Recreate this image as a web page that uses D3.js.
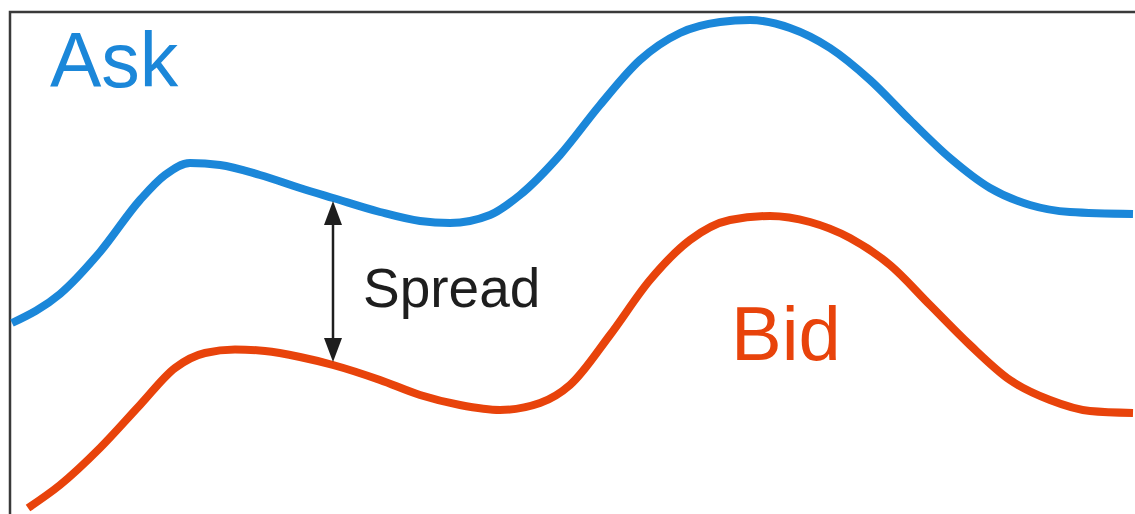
<!DOCTYPE html>
<html>
<head>
<meta charset="utf-8">
<script src="https://cdn.jsdelivr.net/npm/d3@7"></script>
<style>
html,body{margin:0;padding:0;background:#fff;}
svg{display:block;}
</style>
</head>
<body>
<svg id="chart" width="1135" height="514"></svg>
<script>
// time points (arbitrary units) and prices
const askTime  = [2, 50, 90, 130, 155, 180, 210, 250, 290, 323, 370, 410, 440, 480, 510, 550, 590, 630, 670, 710, 740, 780, 820, 860, 900, 940, 980, 1020, 1060, 1123];
const askPrice = [197, 226, 268, 320, 345, 357, 355, 345, 332, 322, 308, 299, 297, 305, 325, 365, 415, 460, 487, 498, 500, 492, 472, 440, 400, 362, 332, 315, 308, 306];
const bidTime  = [18, 50, 90, 130, 165, 195, 225, 255, 290, 323, 370, 410, 450, 490, 530, 560, 600, 640, 680, 720, 760, 800, 840, 880, 920, 960, 1000, 1040, 1080, 1123];
const bidPrice = [12, 35, 72, 115, 152, 167, 170.5, 169, 163, 155, 140, 125, 115, 110, 117, 135, 185, 240, 280, 300, 304, 298, 282, 255, 215, 175, 140, 120, 109, 107];
const labels = {ask: "Ask", bid: "Bid", spread: "Spread"};
const spreadTime = 323;

const svg = d3.select("#chart");
const x = d3.scaleLinear().domain([0, 1125]).range([10, 1135]);
const y = d3.scaleLinear().domain([0, 520]).range([520, 0]);

// frame
svg.append("path")
  .attr("d", `M${x(0)},514 L${x(0)},${y(508)} L1135,${y(508)}`)
  .attr("fill", "none").attr("stroke", "#3a3a3a").attr("stroke-width", 2.5);

const line = d3.line().x(d => x(d[0])).y(d => y(d[1])).curve(d3.curveMonotoneX);

svg.append("path")
  .attr("d", line(askTime.map((t, i) => [t, askPrice[i]])))
  .attr("fill", "none").attr("stroke", "#1b87d9").attr("stroke-width", 8).attr("stroke-linecap", "butt");

svg.append("path")
  .attr("d", line(bidTime.map((t, i) => [t, bidPrice[i]])))
  .attr("fill", "none").attr("stroke", "#e8430b").attr("stroke-width", 8).attr("stroke-linecap", "butt");

// spread arrow
const askAt = askPrice[askTime.indexOf(spreadTime)];
const bidAt = bidPrice[bidTime.indexOf(spreadTime)];
const ax = x(spreadTime);
const yTop = y(askAt) + 3, yBot = y(bidAt) - 3;
svg.append("line").attr("x1", ax).attr("x2", ax).attr("y1", yTop + 15).attr("y2", yBot - 15)
  .attr("stroke", "#1e1e1e").attr("stroke-width", 2.5);
svg.append("path").attr("d", `M${ax},${yTop} L${ax-9},${yTop+24} L${ax+9},${yTop+24} Z`).attr("fill", "#1e1e1e");
svg.append("path").attr("d", `M${ax},${yBot} L${ax-9},${yBot-24} L${ax+9},${yBot-24} Z`).attr("fill", "#1e1e1e");

// labels
svg.append("text").attr("x", 50).attr("y", 87).text(labels.ask)
  .attr("font-family", "Liberation Sans, Arial, sans-serif").attr("font-size", 77).attr("fill", "#1b87d9");
svg.append("text").attr("x", 731).attr("y", 360).text(labels.bid)
  .attr("font-family", "Liberation Sans, Arial, sans-serif").attr("font-size", 76).attr("fill", "#e8430b");
svg.append("text").attr("x", 363).attr("y", 307).text(labels.spread)
  .attr("font-family", "Liberation Sans, Arial, sans-serif").attr("font-size", 55).attr("fill", "#1e1e1e");
</script>
</body>
</html>
